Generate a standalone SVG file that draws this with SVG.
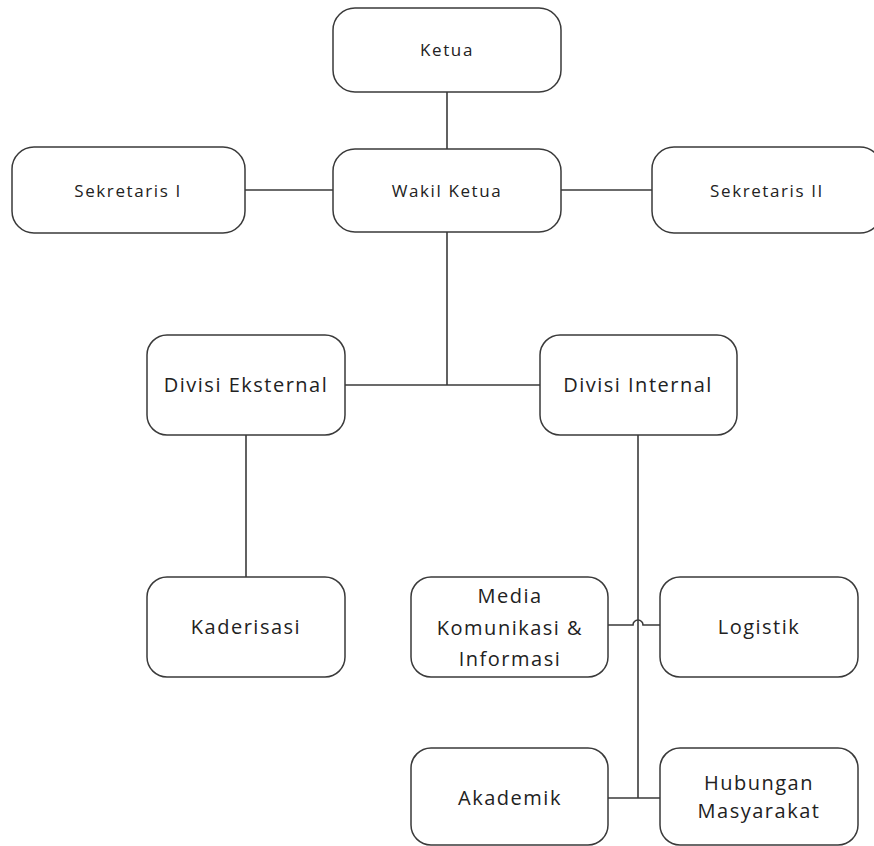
<svg xmlns="http://www.w3.org/2000/svg" width="874" height="846" viewBox="0 0 874 846">
<style>
.box{fill:#fff;stroke:#3a3a3a;stroke-width:1.5}
.ln{fill:none;stroke:#3a3a3a;stroke-width:1.6}
.t1{font-family:"Open Sans",sans-serif;font-size:17px;letter-spacing:1.6px;fill:#222;text-anchor:middle}
.t2{font-family:"Open Sans",sans-serif;font-size:20px;letter-spacing:1.5px;fill:#222;text-anchor:middle}
</style>
<rect width="874" height="846" fill="#fff"/>
<g id="connectors">
<line class="ln" x1="447" y1="92" x2="447" y2="150"/>
<line class="ln" x1="245" y1="190" x2="333" y2="190"/>
<line class="ln" x1="561" y1="190" x2="652" y2="190"/>
<line class="ln" x1="447" y1="232" x2="447" y2="385"/>
<line class="ln" x1="345" y1="385" x2="540" y2="385"/>
<line class="ln" x1="246" y1="435" x2="246" y2="577"/>
<line class="ln" x1="638" y1="435" x2="638" y2="798"/>
<path class="ln" d="M608,625 H633 A5,5 0 0 1 643,625 H660"/>
<line class="ln" x1="608" y1="798" x2="660" y2="798"/>
</g>
<g id="ketua"><rect class="box" x="333" y="8" width="228" height="84" rx="22"/><text class="t1" x="447" y="56">Ketua</text></g>
<g id="wakil"><rect class="box" x="333" y="149" width="228" height="83" rx="22"/><text class="t1" x="447" y="197">Wakil Ketua</text></g>
<g id="sek1"><rect class="box" x="12" y="147" width="233" height="86" rx="22"/><text class="t1" x="128" y="197">Sekretaris I</text></g>
<g id="sek2"><rect class="box" x="652" y="147" width="230" height="86" rx="22"/><text class="t1" x="767" y="197">Sekretaris II</text></g>
<g id="eksternal"><rect class="box" x="147" y="335" width="198" height="100" rx="20"/><text class="t2" x="246" y="392">Divisi Eksternal</text></g>
<g id="internal"><rect class="box" x="540" y="335" width="197" height="100" rx="20"/><text class="t2" x="638" y="392">Divisi Internal</text></g>
<g id="kaderisasi"><rect class="box" x="147" y="577" width="198" height="100" rx="20"/><text class="t2" x="246" y="634">Kaderisasi</text></g>
<g id="media"><rect class="box" x="411" y="577" width="197" height="100" rx="20"/><text class="t2" x="510" y="603">Media</text><text class="t2" x="510" y="635">Komunikasi &amp;</text><text class="t2" x="510" y="666">Informasi</text></g>
<g id="logistik"><rect class="box" x="660" y="577" width="198" height="100" rx="20"/><text class="t2" x="759" y="634">Logistik</text></g>
<g id="akademik"><rect class="box" x="411" y="748" width="197" height="97" rx="20"/><text class="t2" x="510" y="805">Akademik</text></g>
<g id="hubungan"><rect class="box" x="660" y="748" width="198" height="97" rx="20"/><text class="t2" x="759" y="790">Hubungan</text><text class="t2" x="759" y="818">Masyarakat</text></g>
</svg>
